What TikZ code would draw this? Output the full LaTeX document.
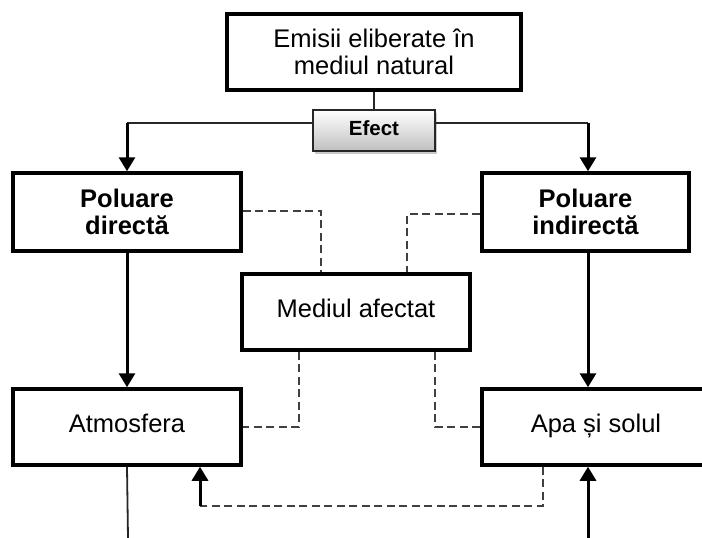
\documentclass[tikz,border=0pt]{standalone}
\usepackage{fontspec}
\setmainfont{Liberation Sans}
\usetikzlibrary{arrows.meta,shadows,calc}
\begin{document}
\begin{tikzpicture}[x=1pt,y=-1pt,
  box/.style={draw=black,line width=3.5pt,fill=white,inner sep=0pt,align=center,
    minimum width=228pt,minimum height=76pt,font=\fontsize{25.5}{27}\selectfont},
  boldbox/.style={box,font=\fontsize{25.5}{27}\selectfont\bfseries},
  efectbox/.style={draw=black!85,line width=1.8pt,inner sep=0pt,minimum width=122pt,minimum height=41pt,
    top color=white,bottom color=black!25,
    drop shadow={shadow xshift=1.5pt,shadow yshift=-2.5pt,opacity=0.35,fill=black!60},
    font=\fontsize{20.5}{24}\selectfont\bfseries},
  thinline/.style={draw=black!85,line width=1.8pt},
  arrowline/.style={draw=black,line width=3pt,-{Triangle[length=14pt,width=16pt]}},
  dsh/.style={draw=black!75,line width=1.8pt,dash pattern=on 8pt off 4.5pt}]
\clip (0,0) rectangle (702,538);
\fill[white] (0,0) rectangle (702,538);
% nodes
\node[box,minimum width=294pt] (top) at (374,52) {Emisii eliberate în\\mediul natural};
\node[efectbox] (efect) at (374,130.5) {\strut Efect};
\node[boldbox,minimum height=78pt] (dir) at (127,212) {Poluare\\directă};
\node[boldbox,minimum width=207pt,minimum height=78pt] (ind) at (585.5,212) {Poluare\\indirectă};
\node[box] (med) at (356,312) {\strut Mediul afectat};
\node[box] (atm) at (127,427) {\strut Atmosfera};
\node[box] (apa) at (596,427) {\strut Apa și solul};
% helper coordinates
\coordinate (hl) at (0,123);
\coordinate (ax) at (588,0);
\coordinate (cl) at (dir.north |- hl);
\coordinate (cr) at (ax |- hl);
\coordinate (b1) at (128,538);
\coordinate (b2) at (588,538);
\coordinate (d1) at (321,211);
\coordinate (d2) at (407,214);
\coordinate (d3) at (299,427);
\coordinate (d4) at (435,427);
\coordinate (d5) at (543,506);
\coordinate (d6) at (200,506);
% solid connectors
\draw[thinline] (top.south) -- (efect.north);
\draw[thinline] (efect.west |- hl) -- (cl);
\draw[arrowline] (cl) -- (dir.north);
\draw[thinline] (efect.east |- hl) -- (cr);
\draw[arrowline] (cr) -- (ax |- ind.north);
\draw[arrowline] (dir.south) -- (atm.north);
\draw[arrowline] (ax |- ind.south) -- (ax |- apa.north);
\draw[thinline] (atm.south) -- (b1);
\draw[arrowline] (b2) -- (ax |- apa.south);
% dashed connectors
\draw[dsh] (dir.east |- d1) -| (d1 |- med.north);
\draw[dsh] (ind.west |- d2) -| (d2 |- med.north);
\draw[dsh] (d3 |- med.south) |- (atm.east |- d3);
\draw[dsh] (d4 |- med.south) |- (apa.west |- d4);
\draw[dsh] (d5 |- apa.south) |- (d6);
\draw[arrowline] (d6) -- (d6 |- atm.south);
\end{tikzpicture}
\end{document}
